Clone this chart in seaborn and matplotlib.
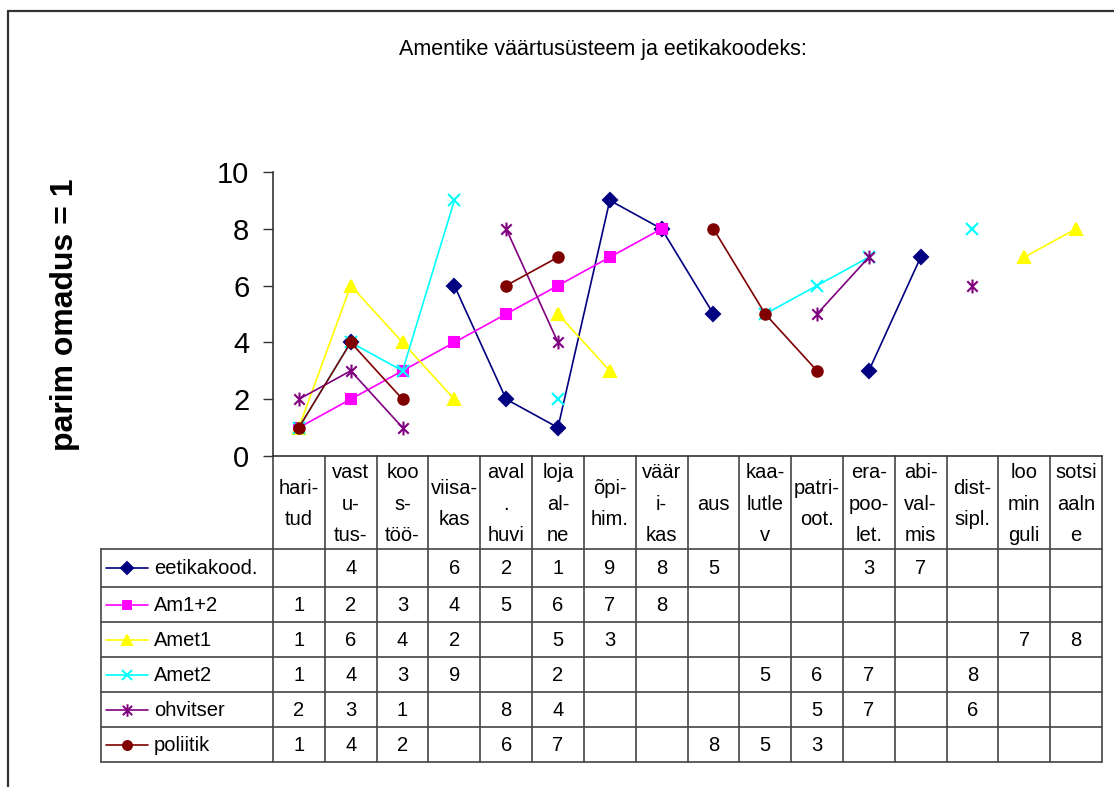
import numpy as np
import pandas as pd
import matplotlib.pyplot as plt
import matplotlib.path as mpath
import matplotlib.transforms as mtransforms
from matplotlib.lines import Line2D
import seaborn as sns

categories = ['hari-\ntud', 'vast\nu-\ntus-', 'koo\ns-\ntöö-', 'viisa-\nkas',
              'aval\n.\nhuvi', 'loja\nal-\nne', 'õpi-\nhim.', 'väär\ni-\nkas',
              'aus', 'kaa-\nlutle\nv', 'patri-\noot.', 'era-\npoo-\nlet.',
              'abi-\nval-\nmis', 'dist-\nsipl.', 'loo\nmin\nguli', 'sotsi\naaln\ne']

n = np.nan
eetikakood = [n, 4, n, 6, 2, 1, 9, 8, 5, n, n, 3, 7, n, n, n]
am12 = [1, 2, 3, 4, 5, 6, 7, 8, n, n, n, n, n, n, n, n]
amet1 = [1, 6, 4, 2, n, 5, 3, n, n, n, n, n, n, n, 7, 8]
amet2 = [1, 4, 3, 9, n, 2, n, n, n, 5, 6, 7, n, 8, n, n]
ohvitser = [2, 3, 1, n, 8, 4, n, n, n, n, 5, 7, n, 6, n, n]
poliitik = [1, 4, 2, n, 6, 7, n, n, 8, 5, 3, n, n, n, n, n]

series_names = ['eetikakood.', 'Am1+2', 'Amet1', 'Amet2', 'ohvitser', 'poliitik']
series_values = [eetikakood, am12, amet1, amet2, ohvitser, poliitik]

# Excel-like styling
colors = ['#000080', '#FF00FF', '#FFFF00', '#00FFFF', '#800080', '#800000']
star = mpath.Path([(0, -1), (0, 1), (-0.75, -0.75), (0.75, 0.75), (-0.75, 0.75), (0.75, -0.75)],
                  [1, 2, 1, 2, 1, 2])
markers = ['D', 's', '^', 'x', star, 'o']
msizes = [7, 7, 8, 8, 10, 7.5]

sns.set_style('white')
plt.rcParams['font.family'] = ['Liberation Sans', 'DejaVu Sans']
plt.rcParams['text.color'] = 'black'
plt.rcParams['axes.labelcolor'] = 'black'
plt.rcParams['ytick.color'] = 'black'

W, H = 1114, 787
fig = plt.figure(figsize=(W / 100, H / 100), dpi=100)

# overlay in pixel coordinates for the frame, title and the data table
over = fig.add_axes([0, 0, 1, 1], zorder=0)
over.set_xlim(0, W)
over.set_ylim(H, 0)
over.axis('off')

ax_left, ax_right, ax_top, ax_bottom = 273, 1102, 172, 456
ax = fig.add_axes([ax_left / W, 1 - ax_bottom / H, (ax_right - ax_left) / W, (ax_bottom - ax_top) / H],
                  zorder=1)
ax.patch.set_alpha(0)

# one line per run of consecutive values (Excel leaves gaps for empty cells)
for name, vals, c, m, ms in zip(series_names, series_values, colors, markers, msizes):
    df = pd.DataFrame({'pos': np.arange(len(categories)) + 0.5, 'value': vals})
    df['seg'] = df['value'].isna().cumsum()
    df = df.dropna()
    sns.lineplot(data=df, x='pos', y='value', units='seg', estimator=None, sort=False,
                 color=c, marker=m, markersize=ms, markeredgecolor=c, markerfacecolor=c,
                 markeredgewidth=1.5, linewidth=1.2, ax=ax, legend=False)

ax.set_xlim(0, len(categories))
ax.set_ylim(0, 10)
ax.set_yticks(range(0, 11, 2))
ax.set_xticks([])
ax.set_xlabel('')
ax.set_ylabel('parim omadus = 1', fontsize=23, fontweight='bold')
ax.yaxis.set_label_coords((80 - ax_left) / (ax_right - ax_left), (ax_bottom - 315) / (ax_bottom - ax_top))
ax.tick_params(axis='y', direction='out', length=7, width=1, color='#333333',
               labelsize=21, pad=10, left=True)
for s in ['top', 'right']:
    ax.spines[s].set_visible(False)
for s in ['left', 'bottom']:
    ax.spines[s].set_color('#333333')
    ax.spines[s].set_linewidth(1.2)

# outer frame and title
over.plot([8, W], [11, 11], color='#333333', lw=1.6)
over.plot([8, 8], [11, H], color='#333333', lw=1.6)
over.text(603, 50, 'Amentike väärtusüsteem ja eetikakoodeks:', ha='center', va='center', fontsize=15.5)

# data table below the axis: x in category units, y in pixels
tr = mtransforms.blended_transform_factory(ax.transData, over.transData)
table_left = 101
header_bottom = 549
row_edges = [549, 587, 622, 657, 692, 727, 762]
grid_c = '#444444'

for k in range(len(categories) + 1):
    over.plot([k, k], [ax_bottom, row_edges[-1]], color=grid_c, lw=1.2, transform=tr, clip_on=False)
for y in row_edges:
    over.plot([table_left, ax_right], [y, y], color=grid_c, lw=1.2)
over.plot([table_left, table_left], [header_bottom, row_edges[-1]], color=grid_c, lw=1.2)

for i, lab in enumerate(categories):
    over.text(i + 0.5, 504, lab, ha='center', va='center', fontsize=14.5,
              linespacing=1.85, transform=tr)

for r, (name, vals, c, m, ms) in enumerate(zip(series_names, series_values, colors, markers, msizes)):
    yc = (row_edges[r] + row_edges[r + 1]) / 2
    over.add_line(Line2D([106, 148], [yc, yc], color=c, lw=1.2))
    over.add_line(Line2D([127], [yc], color=c, marker=m, markersize=ms - 1, markeredgecolor=c,
                         markerfacecolor=c, markeredgewidth=1.4))
    over.text(154, yc + 1, name, ha='left', va='center', fontsize=14.5)
    for i, v in enumerate(vals):
        if not np.isnan(v):
            over.text(i + 0.5, yc + 1, f'{int(v)}', ha='center', va='center', fontsize=14.5,
                      transform=tr)

fig.savefig('out.png', dpi=100)
